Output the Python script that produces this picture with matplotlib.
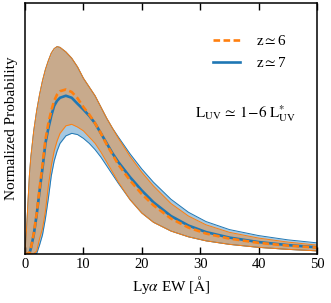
import numpy as np
import matplotlib
matplotlib.use("Agg")
import matplotlib.pyplot as plt

plt.rcParams["font.family"] = "serif"
plt.rcParams["font.serif"] = ["Liberation Serif", "DejaVu Serif"]
plt.rcParams["mathtext.fontset"] = "stix"

# Lya EW grid [A] and normalized probability
ew = np.array([0, 0.25, 0.5, 0.75, 1.0, 1.5, 2.0, 2.5, 3.0, 3.5, 4.0, 4.5, 5.0, 5.5, 6.0,
               7, 8, 9, 10, 11, 12, 13, 14, 15, 16, 18, 20, 22, 25, 28, 31, 35, 40, 45, 50])

# z~6
z6_med = np.array([0, 0, 0, 0, 0.02, 0.08, 0.16, 0.26, 0.355, 0.455, 0.52, 0.57, 0.61, 0.635, 0.648,
                   0.655, 0.645, 0.62, 0.585, 0.555, 0.52, 0.48, 0.435, 0.395, 0.355,
                   0.292, 0.238, 0.193, 0.14, 0.104, 0.08, 0.06, 0.043, 0.032, 0.024])
z6_hi = np.array([0, 0.09, 0.20, 0.31, 0.385, 0.49, 0.57, 0.635, 0.69, 0.735, 0.77, 0.80, 0.818, 0.826, 0.823,
                  0.805, 0.78, 0.745, 0.70, 0.665, 0.63, 0.585, 0.54, 0.50, 0.46,
                  0.388, 0.325, 0.27, 0.20, 0.15, 0.115, 0.085, 0.062, 0.046, 0.034])
z6_lo = np.array([0, 0, 0, 0, 0, 0, 0.01, 0.06, 0.10, 0.17, 0.27, 0.35, 0.41, 0.45, 0.48,
                  0.51, 0.516, 0.505, 0.49, 0.465, 0.44, 0.405, 0.365, 0.325, 0.285,
                  0.215, 0.162, 0.125, 0.09, 0.067, 0.051, 0.037, 0.025, 0.017, 0.011])

# z~7
z7_med = np.array([0, 0, 0, 0, 0.02, 0.075, 0.155, 0.25, 0.34, 0.44, 0.50, 0.55, 0.59, 0.61, 0.622,
                   0.63, 0.622, 0.598, 0.575, 0.55, 0.52, 0.48, 0.44, 0.40, 0.365,
                   0.305, 0.252, 0.205, 0.15, 0.112, 0.086, 0.064, 0.046, 0.034, 0.025])
z7_hi = np.array([0, 0.09, 0.20, 0.31, 0.385, 0.49, 0.57, 0.635, 0.69, 0.735, 0.77, 0.80, 0.818, 0.826, 0.823,
                  0.805, 0.78, 0.745, 0.70, 0.665, 0.63, 0.585, 0.54, 0.50, 0.465,
                  0.398, 0.338, 0.285, 0.217, 0.165, 0.128, 0.096, 0.072, 0.055, 0.043])
z7_lo = np.array([0, 0, 0, 0, 0, 0, 0, 0.035, 0.075, 0.14, 0.22, 0.31, 0.37, 0.41, 0.44,
                  0.47, 0.48, 0.475, 0.46, 0.44, 0.415, 0.385, 0.35, 0.315, 0.28,
                  0.215, 0.162, 0.125, 0.09, 0.067, 0.051, 0.037, 0.025, 0.017, 0.011])

c6 = "#ff7f0e"
c7 = "#1f77b4"

fig = plt.figure(figsize=(3.31, 3.03), dpi=100)
ax = fig.add_axes([0.0755, 0.163, 0.882, 0.827])

ax.fill_between(ew, z7_lo, z7_hi, color=c7, alpha=0.4, lw=0)
ax.plot(ew, z7_hi, color=c7, lw=0.7)
ax.plot(ew, z7_lo, color=c7, lw=0.7)
ax.fill_between(ew, z6_lo, z6_hi, color=c6, alpha=0.4, lw=0)
ax.plot(ew, z6_hi, color=c6, lw=0.7)
ax.plot(ew, z6_lo, color=c6, lw=0.7)

l7, = ax.plot(ew, z7_med, color=c7, lw=1.9, label=r"z$\simeq$7")
l6, = ax.plot(ew, z6_med, color=c6, lw=1.9, ls=(0, (2.5, 1.3)), label=r"z$\simeq$6")

ax.legend(handles=[l6, l7], loc="upper right", bbox_to_anchor=(0.895, 0.875),
          frameon=False, fontsize=11, handlelength=1.8, labelspacing=0.5,
          handletextpad=1.0, borderpad=0, borderaxespad=0)
ax.text(0.757, 0.56, r"$\mathrm{L_{UV}}\,\simeq\,1\!-\!6\ \mathrm{L^{*}_{UV}}$",
        transform=ax.transAxes, ha="center", va="center", fontsize=11)

ax.set_xlim(0, 50)
ax.set_ylim(0, 1)
ax.set_xticks([0, 10, 20, 30, 40, 50])
ax.set_yticks([])
ax.tick_params(axis="x", direction="in", top=True, length=5, width=1, labelsize=10.5)
for s in ax.spines.values():
    s.set_linewidth(1.1)
ax.set_xlabel(r"Ly$\alpha$ EW [$\mathrm{\AA}$]", fontsize=11, labelpad=2)
ax.set_ylabel("Normalized Probability", fontsize=11, labelpad=5)

fig.savefig("out.png", dpi=100)
